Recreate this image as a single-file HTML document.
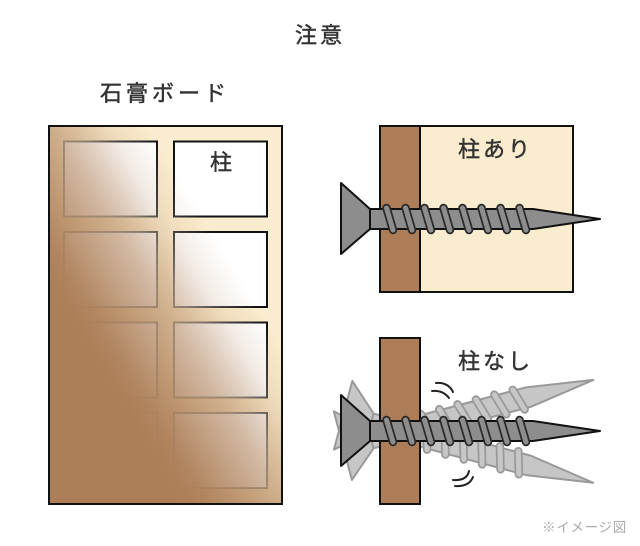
<!DOCTYPE html>
<html lang="ja">
<head>
<meta charset="utf-8">
<style>
html,body{margin:0;padding:0;background:#fff;width:640px;height:546px;overflow:hidden}
svg{display:block;filter:blur(0.35px)}
text{font-family:"Liberation Sans","Noto Sans CJK JP",sans-serif;fill:#333;stroke:#333;stroke-width:0.45px}
</style>
</head>
<body>
<svg width="640" height="546" viewBox="0 0 640 546" xmlns="http://www.w3.org/2000/svg">
<defs>
<linearGradient id="ov" gradientUnits="userSpaceOnUse" x1="16" y1="227" x2="157" y2="141">
<stop offset="0" stop-color="#ad7f58" stop-opacity="1"/>
<stop offset="0.12" stop-color="#ad7f58" stop-opacity="0.95"/>
<stop offset="0.27" stop-color="#ad7f58" stop-opacity="0.8"/>
<stop offset="0.515" stop-color="#ad7f58" stop-opacity="0.55"/>
<stop offset="0.636" stop-color="#ad7f58" stop-opacity="0.38"/>
<stop offset="0.79" stop-color="#ad7f58" stop-opacity="0.15"/>
<stop offset="1" stop-color="#ad7f58" stop-opacity="0"/>
</linearGradient>
<linearGradient id="st" gradientUnits="userSpaceOnUse" x1="16" y1="227" x2="157" y2="141">
<stop offset="0" stop-color="#111" stop-opacity="0"/>
<stop offset="0.12" stop-color="#111" stop-opacity="0.03"/>
<stop offset="0.27" stop-color="#111" stop-opacity="0.13"/>
<stop offset="0.515" stop-color="#111" stop-opacity="0.27"/>
<stop offset="0.636" stop-color="#111" stop-opacity="0.42"/>
<stop offset="0.79" stop-color="#111" stop-opacity="0.75"/>
<stop offset="1" stop-color="#111" stop-opacity="1"/>
</linearGradient>
<path id="th" d="M386.500 208L393 230M405.500 208L412 230M424.500 208L431 230M443.500 208L450 230M462.500 208L469 230M481.500 208L488 230M500.500 208L507 230M519.500 208L526 230"/>
<g id="screw">
<path d="M341 183L370 209V229L341 254Z" fill="#8d8d8d" stroke="#111" stroke-width="2" stroke-linejoin="round"/>
<path d="M370 209H533L600 219L533 229H370Z" fill="#8d8d8d" stroke="#111" stroke-width="2" stroke-linejoin="round"/>
<use href="#th" fill="none" stroke="#2a2a2a" stroke-width="8.500" stroke-linecap="round"/>
<use href="#th" fill="none" stroke="#8d8d8d" stroke-width="5" stroke-linecap="round"/>
</g>
<g id="ghost">
<path d="M341 183L370 209V229L341 254Z" fill="#c6c6c6" stroke="#999" stroke-width="2" stroke-linejoin="round"/>
<path d="M370 209H533L600 219L533 229H370Z" fill="#c6c6c6" stroke="#999" stroke-width="2" stroke-linejoin="round"/>
<use href="#th" fill="none" stroke="#999" stroke-width="8.500" stroke-linecap="round"/>
<use href="#th" fill="none" stroke="#c6c6c6" stroke-width="5" stroke-linecap="round"/>
</g>
</defs>

<text x="295" y="43" font-size="22" letter-spacing="3">注意</text>
<text x="100" y="101" font-size="22" letter-spacing="4">石膏ボード</text>

<!-- board -->
<rect x="49" y="126" width="233" height="378" fill="#faecce"/>
<g fill="#fff">
<rect x="64" y="141.500" width="93" height="75"/>
<rect x="174" y="141.500" width="93" height="75"/>
<rect x="64" y="232" width="93" height="75"/>
<rect x="174" y="232" width="93" height="75"/>
<rect x="64" y="322.500" width="93" height="75"/>
<rect x="174" y="322.500" width="93" height="75"/>
<rect x="64" y="413" width="93" height="75"/>
<rect x="174" y="413" width="93" height="75"/>
</g>
<rect x="49" y="126" width="233" height="378" fill="url(#ov)"/>
<g fill="none" stroke="url(#st)" stroke-width="2">
<rect x="64" y="141.500" width="93" height="75"/>
<rect x="174" y="141.500" width="93" height="75"/>
<rect x="64" y="232" width="93" height="75"/>
<rect x="174" y="232" width="93" height="75"/>
<rect x="64" y="322.500" width="93" height="75"/>
<rect x="174" y="322.500" width="93" height="75"/>
<rect x="64" y="413" width="93" height="75"/>
<rect x="174" y="413" width="93" height="75"/>
</g>
<rect x="49" y="126" width="233" height="378" fill="none" stroke="#111" stroke-width="2"/>
<text x="210" y="170" font-size="22">柱</text>

<!-- top right -->
<rect x="380" y="126" width="193" height="166" fill="#faecce" stroke="#111" stroke-width="2"/>
<rect x="380" y="126" width="40" height="166" fill="#ad7d57" stroke="#111" stroke-width="2"/>
<text x="458" y="157" font-size="22" letter-spacing="3">柱あり</text>
<use href="#screw"/>

<!-- bottom right -->
<g transform="translate(0 212)">
<use href="#ghost" transform="rotate(-14.800 400 219)"/>
<use href="#ghost" transform="rotate(15 400 219)"/>
</g>
<rect x="380" y="338" width="40" height="166" fill="#ad7d57" stroke="#111" stroke-width="2"/>
<text x="458" y="369" font-size="22" letter-spacing="3">柱なし</text>
<use href="#screw" y="212"/>

<!-- motion marks -->
<g fill="none" stroke="#222" stroke-width="2" stroke-linecap="round">
<path d="M436 383Q448 382 453 392"/>
<path d="M432 391Q443 390 449 398"/>
<path d="M469 471Q467 481 453 480"/>
<path d="M473 477Q469 487 455 486"/>
</g>

<text x="542" y="532" font-size="13.500" letter-spacing="0.700" style="fill:#aaa;stroke:none">※イメージ図</text>
</svg>
</body>
</html>
